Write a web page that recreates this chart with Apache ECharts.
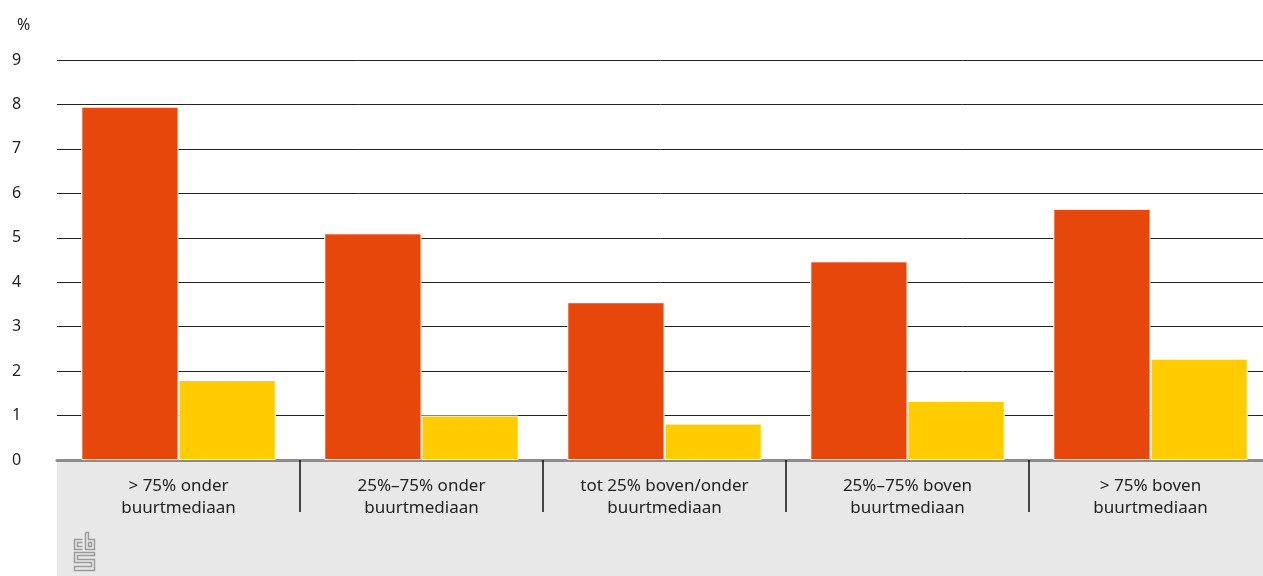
<!DOCTYPE html>
<html>
<head>
<meta charset="utf-8">
<script src="https://cdn.jsdelivr.net/npm/echarts@6/dist/echarts.min.js"></script>
<style>html,body{margin:0;padding:0;background:#fff}#c{width:1263px;height:576px}</style>
</head>
<body>
<div id="c"></div>
<script>
const categories = ['> 75% onder\nbuurtmediaan', '25%–75% onder\nbuurtmediaan', 'tot 25% boven/onder\nbuurtmediaan', '25%–75% boven\nbuurtmediaan', '> 75% boven\nbuurtmediaan'];
const seriesA = [7.95, 5.1, 3.55, 4.47, 5.65];
const seriesB = [1.8, 1.0, 0.82, 1.33, 2.28];
const yTicks = { min: 0, max: 9, interval: 1 };

const chart = echarts.init(document.getElementById('c'));
const font = '"Noto Sans", sans-serif';
const logoStroke = { stroke: '#9a9a9a', lineWidth: 1.5, fill: null };
chart.setOption({
  animation: false,
  title: { text: '%', left: 12, top: 12, textStyle: { fontFamily: font, fontSize: 16, fontWeight: 'normal', color: '#222' } },
  graphic: [
    { type: 'rect', left: 57, top: 461, shape: { width: 1206, height: 115 }, style: { fill: '#e8e8e8' }, z: -10 },
    { type: 'group', left: 72, top: 530, children: [
      { type: 'polyline', shape: { points: [[9,7],[1,7],[1,17],[9,17]] }, style: logoStroke },
      { type: 'polyline', shape: { points: [[9,10],[4,10],[4,14],[9,14]] }, style: logoStroke },
      { type: 'polyline', shape: { points: [[12,0],[12,17],[21,17],[21,7],[15,7],[15,0],[12,0]] }, style: logoStroke },
      { type: 'rect', shape: { x: 15, y: 10, width: 3, height: 4 }, style: logoStroke },
      { type: 'polyline', shape: { points: [[21,20],[1,20],[1,30],[18,30],[18,34],[1,34],[1,38],[21,38],[21,27],[4,27],[4,23],[21,23],[21,20]] }, style: logoStroke }
    ]}
  ],
  grid: { left: 57, width: 1215, top: 60, height: 400, containLabel: false, outerBoundsMode: 'none' },
  xAxis: {
    type: 'category', data: categories,
    axisLine: { show: true, lineStyle: { color: '#8c8c8c', width: 3 } },
    axisTick: { show: true, length: 52, lineStyle: { color: '#111', width: 1.5 }, interval: function (i) { return i !== 0; } },
    axisLabel: { interval: 0, margin: 15, fontFamily: font, fontSize: 17, color: '#222', lineHeight: 22 }
  },
  yAxis: {
    type: 'value', min: yTicks.min, max: yTicks.max, interval: yTicks.interval,
    axisLine: { show: false }, axisTick: { show: false },
    axisLabel: { align: 'left', margin: 45, fontFamily: font, fontSize: 16, color: '#222' },
    splitLine: { lineStyle: { color: '#222', width: 1 } }
  },
  series: [
    { type: 'bar', data: seriesA, barGap: '0%', barCategoryGap: '20%', itemStyle: { color: '#e8470b', borderColor: '#fff', borderWidth: 1 } },
    { type: 'bar', data: seriesB, barGap: '0%', barCategoryGap: '20%', itemStyle: { color: '#ffcc00', borderColor: '#fff', borderWidth: 1 } }
  ]
});
</script>
</body>
</html>
